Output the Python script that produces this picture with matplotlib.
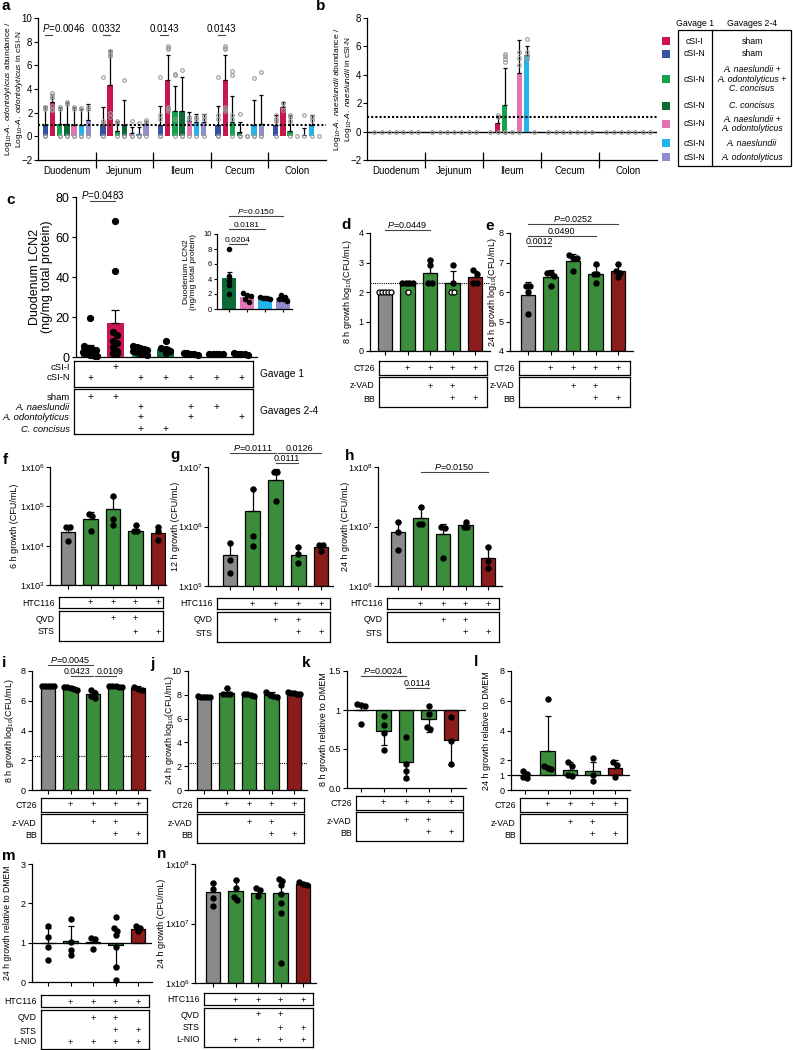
import numpy as np
import matplotlib
matplotlib.use("Agg")
import matplotlib.pyplot as plt
from matplotlib.patches import Rectangle

plt.rcParams['font.family'] = ['Liberation Sans', 'DejaVu Sans']
plt.rcParams['mathtext.fontset'] = 'custom'
plt.rcParams['mathtext.rm'] = 'Liberation Sans'
plt.rcParams['mathtext.it'] = 'Liberation Sans:italic'
plt.rcParams['axes.linewidth'] = 0.9

# ── Data ───────────────────────────────────────────────────────────────────────
SEGMENTS = ['Duodenum', 'Jejunum', 'Ileum', 'Cecum', 'Colon']
# bar order inside a segment: cSI-N/sham, cSI-I/sham, triple, C.c, A.n+A.o, A.n, A.o
GROUP_COLORS = ['#3553a3', '#c8174f', '#16a24c', '#0c6a36', '#e374b3', '#22b4ea', '#8f8bcc']

a_mean = [[1.0, 2.9, 1.05, 1.05, 1.0, 1.0, 1.4],
          [1.0, 4.3, 0.45, 1.0, 0.25, 0.2, 1.05],
          [1.0, 4.75, 2.1, 2.1, 1.3, 1.25, 1.25],
          [1.0, 4.75, 1.25, 0.35, 0.05, 1.0, 1.05],
          [1.0, 2.5, 0.45, 0.0, 0.1, 0.95, 0.0]]
a_err = [[2.55, 3.6, 2.45, 2.9, 2.5, 2.35, 2.75],
         [2.5, 7.3, 1.3, 3.1, 0.8, 0.75, 1.3],
         [2.6, 6.85, 4.25, 5.05, 2.05, 1.9, 1.9],
         [2.6, 6.85, 3.4, 1.2, 0.05, 3.1, 3.5],
         [1.8, 2.9, 1.8, 0.0, 0.7, 1.8, 0.0]]
a_pts = [[[2.5, 2.4, 2.3, 0, 0], [3.65, 3.4, 3.2, 2.6, 2.3, 2.2], [2.5, 2.3, 0, 0],
          [2.9, 2.7, 0, 0], [2.5, 2.3, 0, 0], [2.4, 2.3, 0, 0], [2.5, 2.3, 0]],
         [[5.0, 1.3, 1.1, 0, 0], [7.2, 7.1, 7.0, 6.8, 2.0, 1.6], [1.3, 1.1, 0],
          [4.8, 0, 0], [1.3, 0, 0], [1.1, 0, 0], [1.4, 1.2, 0]],
         [[5.0, 1.8, 1.5, 0, 0], [7.6, 7.5, 7.4, 2.5, 2.3, 2.1], [5.3, 5.2, 1.5, 0],
          [5.6, 0, 0], [1.6, 1.5, 0], [1.6, 1.5, 0], [1.7, 1.5, 0]],
         [[5.0, 1.8, 1.5, 0, 0], [7.6, 7.5, 7.4, 2.5, 2.3, 2.1], [5.5, 5.2, 1.8, 1.5, 0],
          [1.9, 0, 0], [0, 0], [4.9, 0, 0], [5.4, 0, 0]],
         [[1.8, 1.5, 1.3, 0], [2.8, 2.5, 2.2], [1.8, 1.6, 1.3, 0],
          [0], [1.8, 0], [1.6, 1.4, 0], [0]]]

b_mean = [[0] * 7, [0] * 7, [0, 0.6, 1.85, 0, 4.1, 5.4, 0], [0] * 7, [0] * 7]
b_err = [[0] * 7, [0] * 7, [0, 1.1, 4.5, 0, 6.45, 6.05, 0], [0] * 7, [0] * 7]
b_pts = [[[0]] * 7, [[0]] * 7,
         [[0], [1.2, 1.0, 0], [5.5, 5.3, 5.1, 4.9, 0, 0], [0], [5.6, 5.2, 4.7, 0],
          [6.5, 5.6, 5.3, 5.1], [0]],
         [[0]] * 7, [[0]] * 7]

LEG_ORDER = [1, 0, 2, 3, 4, 5, 6]
LEG_G1 = ['cSI-I', 'cSI-N', 'cSI-N', 'cSI-N', 'cSI-N', 'cSI-N', 'cSI-N']
LEG_G24 = ['sham', 'sham', 'A. naeslundii +\nA. odontolyticus +\nC. concisus', 'C. concisus',
           'A. naeslundii +\nA. odontolyticus', 'A. naeslundii', 'A. odontolyticus']

c_mean = [4.5, 17.0, 3.0, 4.1, 1.6, 1.5, 1.45]
c_err = [6.0, 23.5, 3.5, 5.0, 1.9, 1.6, 1.6]
c_pts = [[19.5, 5.5, 4.5, 4.0, 3.5, 2.5, 2.0, 1.5, 1.0, 0.8, 0.5, 0.3],
         [68, 43, 12.5, 11, 8, 7, 5, 3, 2, 2],
         [5.5, 5.0, 4.5, 4.0, 3.5, 3.0, 2.5, 2.0, 1.5, 1.5, 1.0],
         [8.0, 4.4, 3.8, 3.2, 2.0],
         [2.1, 1.9, 1.7, 1.3, 1.0],
         [1.6, 1.5, 1.5, 1.4, 1.5],
         [1.9, 1.6, 1.4, 1.3, 1.1]]
c_colors = GROUP_COLORS
c_table1 = [('cSI-I', [0, 1, 0, 0, 0, 0, 0]), ('cSI-N', [1, 0, 1, 1, 1, 1, 1])]
c_table2 = [('sham', [1, 1, 0, 0, 0, 0, 0]), ('A. naeslundii', [0, 0, 1, 0, 1, 1, 0]),
            ('A. odontolyticus', [0, 0, 1, 0, 1, 0, 1]), ('C. concisus', [0, 0, 1, 1, 0, 0, 0])]

GREY, GREEN, DRED = '#8a8a8a', '#3b8c3b', '#8b1c1c'
cell_colors = [GREY, GREEN, GREEN, GREEN, DRED]

d_mean = [2.0, 2.25, 2.65, 2.3, 2.5]
d_err = [2.0, 2.37, 3.1, 2.72, 2.72]
d_pts = [[], [2.3, 2.3, 2.3, 2.3], [3.1, 2.9, 2.3, 2.3], [2.9, 2.3], [2.75, 2.6, 2.3, 2.3]]
d_open = [[2.0] * 5, [2.0], [], [2.0, 2.0], []]

e_mean = [5.9, 6.5, 7.05, 6.6, 6.7]
e_err = [6.35, 6.75, 7.3, 6.92, 6.95]
e_pts = [[6.2, 6.2, 6.0, 5.25], [6.65, 6.65, 6.55, 6.22], [7.25, 7.15, 7.15, 6.7],
         [6.95, 6.6, 6.6, 6.3], [6.95, 6.7, 6.65, 6.5]]

f_mean = [2.2e4, 4.7e4, 8.5e4, 2.4e4, 2.1e4]
f_err = [3.1e4, 7.0e4, 1.7e5, 3.3e4, 3.0e4]
f_pts = [[3.0e4, 3.0e4, 1.3e4], [6.2e4, 5.8e4, 2.3e4], [1.8e5, 4.7e4, 3.4e4],
         [3.4e4, 2.4e4, 2.4e4], [3.0e4, 2.3e4, 1.4e4]]

g_mean = [3.3e5, 1.8e6, 6.0e6, 3.3e5, 4.5e5]
g_err = [5.2e5, 4.2e6, 9.3e6, 4.6e5, 5.0e5]
g_pts = [[5.3e5, 2.7e5, 1.65e5], [4.3e6, 6.9e5, 4.7e5], [8.3e6, 8.3e6, 2.7e6],
         [4.6e5, 3.4e5, 2.4e5], [4.8e5, 4.8e5, 3.9e5]]

h_mean = [8.0e6, 1.4e7, 7.4e6, 1.08e7, 3.0e6]
h_err = [1.2e7, 2.1e7, 1.1e7, 1.15e7, 4.6e6]
h_pts = [[1.2e7, 8.0e6, 4.1e6], [2.1e7, 1.1e7, 1.1e7], [1.0e7, 9.3e6, 3.0e6],
         [1.2e7, 1.0e7, 1.0e7], [4.6e6, 2.6e6, 2.0e6]]

i_mean = [7.0, 6.85, 6.45, 7.0, 6.85]
i_err = [7.02, 7.0, 6.75, 7.05, 6.98]
i_pts = [[7.0] * 5, [6.95, 6.9, 6.85, 6.8, 6.75], [6.75, 6.55, 6.35, 6.2],
         [7.0, 7.0, 6.95, 6.95, 7.0], [6.95, 6.75, 6.8]]

j_mean = [7.85, 8.15, 8.0, 7.95, 8.15]
j_err = [7.95, 8.55, 8.1, 8.2, 8.25]
j_pts = [[7.9, 7.85, 7.85, 7.8, 7.8], [8.6, 8.1, 8.1, 8.05], [8.05, 8.05, 8.0, 7.9],
         [8.2, 8.0, 7.9, 7.85], [8.2, 8.15, 8.15, 8.1, 8.05]]

k_mean = [1.0, 0.73, 0.33, 0.885, 0.61]
k_err = [1.08, 0.55, 0.12, 0.72, 0.3]
k_pts = [[1.08, 1.07, 1.05, 0.82], [0.92, 0.81, 0.7, 0.49], [0.65, 0.31, 0.22, 0.13],
         [1.05, 0.95, 0.78, 0.76], [0.91, 0.6, 0.31]]

l_mean = [1.0, 2.65, 1.35, 1.25, 1.5]
l_err = [1.2, 5.0, 1.85, 1.85, 2.0]
l_pts = [[1.3, 1.05, 0.85, 0.8], [6.15, 1.6, 1.45, 1.4], [1.85, 1.6, 1.0, 0.95],
         [2.15, 1.0, 0.6], [1.9, 1.7, 0.9]]

m_mean = [0.99, 1.03, 1.01, 0.95, 1.35]
m_err = [1.37, 1.43, 1.12, 0.4, 1.43]
m_pts = [[1.42, 1.15, 0.9, 0.56], [1.6, 1.02, 0.81, 0.69], [1.13, 1.1, 0.84],
         [1.65, 1.37, 1.3, 1.2, 0.89, 0.38, 0.05], [1.43, 1.38, 1.3]]

n_mean = [3.4e7, 3.5e7, 3.3e7, 3.2e7, 4.6e7]
n_err = [4.8e7, 5.3e7, 3.9e7, 5.6e7, 4.9e7]
n_pts = [[4.8e7, 3.8e7, 2.7e7, 2.0e7], [5.3e7, 4.0e7, 2.8e7, 2.5e7], [3.9e7, 3.6e7, 2.9e7],
         [5.6e7, 5.2e7, 4.4e7, 3.1e7, 2.2e7, 1.5e7, 2.2e6], [5.0e7, 4.7e7, 4.5e7]]

CT26_ROWS = ([('CT26', [0, 1, 1, 1, 1])], [('z-VAD', [0, 0, 1, 1, 0]), ('BB', [0, 0, 0, 1, 1])])
HTC_ROWS = ([('HTC116', [0, 1, 1, 1, 1])], [('QVD', [0, 0, 1, 1, 0]), ('STS', [0, 0, 0, 1, 1])])
NIO_ROWS = ([('HTC116', [0, 1, 1, 1, 1])],
            [('QVD', [0, 0, 1, 1, 0]), ('STS', [0, 0, 0, 1, 1]), ('L-NIO', [0, 1, 1, 1, 1])])

# ── Figure helpers ─────────────────────────────────────────────────────────────
W, H = 793, 1050
fig = plt.figure(figsize=(W / 100, H / 100), dpi=100)


def px_axes(x0, y0, x1, y1):
    ax = fig.add_axes([x0 / W, 1 - y1 / H, (x1 - x0) / W, (y1 - y0) / H])
    ax.patch.set_alpha(0)
    return ax


def clean(ax, fs=6.5, pad=1.5):
    ax.spines['top'].set_visible(False)
    ax.spines['right'].set_visible(False)
    ax.tick_params(length=3, width=0.8, labelsize=fs, pad=pad)


def ylab(ax, box, text, cx, fs=6.5):
    ax.set_ylabel(text, fontsize=fs, linespacing=1.05)
    ax.yaxis.label.set_va('center')
    ax.yaxis.set_label_coords((cx - box[0]) / (box[2] - box[0]), 0.5)


def sig(ax, xa, xb, y, s, fs=6.5, ha='center', xt=None):
    ax.plot([xa, xb], [y, y], color='#444444', lw=0.8, clip_on=False)
    ax.annotate(s, ((xa + xb) / 2 if xt is None else xt, y), xytext=(0, 0.3),
                textcoords='offset points', ha=ha, va='bottom', fontsize=fs,
                annotation_clip=False)


def swarm(ax, x, vals, r=4.5, step=0.16, ms=3.6, **kw):
    vals = sorted(vals, reverse=True)
    groups = []
    for v in vals:
        yy = ax.transData.transform((x, v))[1]
        if groups and abs(groups[-1][0][1] - yy) < r:
            groups[-1].append((v, yy))
        else:
            groups.append([(v, yy)])
    for grp in groups:
        n = len(grp)
        st = step if n < 2 else min(step, 0.55 / (n - 1))
        offs = (np.arange(n) - (n - 1) / 2) * st
        ax.plot(x + offs, [g[0] for g in grp], 'o', ms=ms, zorder=5, clip_on=False, **kw)


def errbar(ax, x, m, e, cap=2.2):
    if abs(e - m) < 1e-12:
        return
    yerr = [[0], [e - m]] if e > m else [[m - e], [0]]
    ax.errorbar(x, m, yerr=yerr, fmt='none', ecolor='k', elinewidth=0.9,
                capsize=cap, capthick=0.9, zorder=3)


def cond_table(box, xlim, groups, offs, bx=(9, -3), fs=6.3, side=None):
    x0, y0, x1, y1 = box
    a, b = xlim
    k = (b - a) / (x1 - x0)
    bx0, bx1 = x0 + bx[0], x1 + bx[1]
    for gi, rows in enumerate(groups):
        top, bot, row_y = offs[gi]
        t = px_axes(bx0, y1 + top, bx1, y1 + bot)
        t.set_xlim(a + (bx0 - x0) * k, a + (bx1 - x0) * k)
        t.set_ylim(bot, top)
        t.set_xticks([])
        t.set_yticks([])
        for s in t.spines.values():
            s.set_linewidth(0.9)
        for (label, flags), ry in zip(rows, row_y):
            st = 'italic' if label[:2] in ('A.', 'C.') else 'normal'
            t.annotate(label, xy=(0, ry), xycoords=('axes fraction', 'data'), xytext=(-3, 0),
                       textcoords='offset points', ha='right', va='center', fontsize=fs, style=st)
            for i, f in enumerate(flags):
                if f:
                    t.text(i + 1, ry, '+', ha='center', va='center', fontsize=fs + 0.5)
        if side:
            t.annotate(side[gi], xy=(1, 0.5), xycoords='axes fraction', xytext=(5, 0),
                       textcoords='offset points', ha='left', va='center', fontsize=fs + 0.5)


# ── a / b: relative abundance ─────────────────────────────────────────────────
def abundance(box, means, errs, pts, ticks, ylabel, cx):
    ax = px_axes(*box)
    clean(ax, 7, pad=1)
    for g in range(len(SEGMENTS)):
        for j, col in enumerate(GROUP_COLORS):
            x = g * 8 + 1 + j
            ax.bar(x, means[g][j], width=0.75, color=col, zorder=2)
            errbar(ax, x, means[g][j], max(errs[g][j], means[g][j]), cap=1.3)
            ax.plot([x] * len(pts[g][j]), pts[g][j], 'o', ms=2.6, mfc='none', mec='#9a9a9a',
                    mew=0.8, zorder=4, clip_on=False)
    ax.axhline(1, color='k', ls=(0, (1, 1)), lw=1.5, zorder=6)
    ax.set_xlim(0, 40)
    ax.set_ylim(ticks[0], ticks[-1])
    ax.set_yticks(ticks)
    ax.set_xticks([8, 16, 24, 32])
    ax.set_xticklabels([])
    ax.tick_params(axis='x', direction='inout', length=11, width=0.9)
    ax.set_xticks([4, 12, 20, 28, 36], minor=True)
    ax.set_xticklabels(SEGMENTS, minor=True, fontsize=7)
    ax.tick_params(axis='x', which='minor', length=0, pad=4)
    ylab(ax, box, ylabel, cx, fs=6)
    return ax


box_a = (38, 18, 326, 160)
ax_a = abundance(box_a, a_mean, a_err, a_pts, [-2, 0, 2, 4, 6, 8, 10],
                 r"Log$_{10}$-$\it{A.\ odontolyticus}$ abundance /" + "\n" +
                 r"Log$_{10}$-$\it{A.\ odontolyticus}$ in cSI-N", 14)
sig(ax_a, 1, 2, 8.6, r"$\it{P}$=0.0046", fs=7, ha='left', xt=0.6)
for g in (1, 2, 3):
    sig(ax_a, g * 8 + 1, g * 8 + 2, 8.6, ['', '0.0332', '0.0143', '0.0143'][g], fs=7)

box_b = (367, 18, 657, 160)
ax_b = abundance(box_b, b_mean, b_err, b_pts, [-2, 0, 2, 4, 6, 8],
                 r"Log$_{10}$-$\it{A.\ naeslundii}$ abundance /" + "\n" +
                 r"Log$_{10}$-$\it{A.\ naeslundii}$ in cSI-N", 343)
ax_b.axhline(0, color='k', lw=1.0, zorder=1)

# legend table (top right)
ov = fig.add_axes([0, 0, 1, 1])
ov.set_xlim(0, W)
ov.set_ylim(H, 0)
ov.axis('off')
ov.patch.set_alpha(0)
leg_y = [41, 54, 79, 106, 124, 143, 157]
ov.add_patch(Rectangle((678, 30), 113, 136, fill=False, lw=0.9, ec='k'))
ov.plot([712, 712], [30, 166], color='k', lw=0.9)
ov.text(695, 23, 'Gavage 1', ha='center', va='center', fontsize=6.3)
ov.text(752, 23, 'Gavages 2-4', ha='center', va='center', fontsize=6.3)
for idx, yy, g1, g24 in zip(LEG_ORDER, leg_y, LEG_G1, LEG_G24):
    ov.add_patch(Rectangle((662, yy - 4), 8, 8, color=GROUP_COLORS[idx], lw=0))
    ov.text(695, yy, g1, ha='center', va='center', fontsize=6.3)
    ov.text(752, yy, g24, ha='center', va='center', fontsize=6.3, linespacing=1.05,
            style='normal' if g24 == 'sham' else 'italic')

# ── c: duodenum LCN2 ───────────────────────────────────────────────────────────
box_c = (76, 197, 257, 357)
ax_c = px_axes(*box_c)
clean(ax_c, 9)
xc = np.arange(1, len(c_mean) + 1)
ax_c.set_xlim(1 - 14 / 25.2, 1 + (257 - 90) / 25.2)
ax_c.set_ylim(0, 80)
ax_c.set_yticks([0, 20, 40, 60, 80])
ax_c.set_xticks([])
ax_c.bar(xc, c_mean, width=0.68, color=c_colors, zorder=2)
for x, m, e, p in zip(xc, c_mean, c_err, c_pts):
    errbar(ax_c, x, m, e, cap=3)
    swarm(ax_c, x, p, r=4.5, step=0.17, ms=4.2, color='k')
sig(ax_c, 1, 2, 78, r"$\it{P}$=0.0483", fs=7)
ylab(ax_c, box_c, "Duodenum LCN2\n(ng/mg total protein)", 41, fs=9)
cond_table(box_c, ax_c.get_xlim(), [c_table1, c_table2],
           [(4, 30, [10, 21]), (32, 77, [40, 50, 60, 72])], bx=(-2, -4), fs=6.8,
           side=['Gavage 1', 'Gavages 2-4'])

box_ci = (217, 234, 292, 309)
ax_ci = px_axes(*box_ci)
clean(ax_ci, 5.5)
ax_ci.tick_params(length=2.5, pad=1)
xi = np.arange(1, 5)
ax_ci.set_xlim(1 - 12 / 18, 1 + 63 / 18)
ax_ci.set_ylim(0, 10)
ax_ci.set_yticks([0, 2, 4, 6, 8, 10])
ax_ci.set_xticks(xi)
ax_ci.set_xticklabels([])
ax_ci.bar(xi, c_mean[3:], width=0.75, color=c_colors[3:], zorder=2)
for x, m, e, p in zip(xi, c_mean[3:], c_err[3:], c_pts[3:]):
    errbar(ax_ci, x, m, e, cap=1.8)
    swarm(ax_ci, x, p, r=3.5, step=0.2, ms=3.0, color='k')
sig(ax_ci, 1, 2, 8.67, '0.0204', fs=6)
sig(ax_ci, 1, 3, 10.67, '0.0181', fs=6)
sig(ax_ci, 1, 4, 12.4, r"$\it{P}$=0.0150", fs=6)
ylab(ax_ci, box_ci, "Duodenum LCN2\n(ng/mg total protein)", 190, fs=6)


# ── d–n: growth panels ─────────────────────────────────────────────────────────
def growth(box, first_px, means, errs, pts, ylim, yticks, ylabel, cx, log=False,
           base=None, yticklabels=None, dotted=None, unit_line=False, open_pts=None, sp=22.5,
           lab_fs=6.5):
    ax = px_axes(*box)
    clean(ax, pad=0.8 if log else 1.5)
    x = np.arange(1, len(means) + 1)
    lo = 1 - (first_px - box[0]) / sp
    ax.set_xlim(lo, lo + (box[2] - box[0]) / sp)
    if log:
        ax.set_yscale('log')
    ax.set_ylim(*ylim)
    ax.set_yticks(yticks)
    if yticklabels:
        ax.set_yticklabels(yticklabels)
    ax.minorticks_off()
    ax.set_xticks(x)
    ax.set_xticklabels([])
    b0 = ylim[0] if base is None else base
    ax.bar(x, np.array(means) - b0, bottom=b0, width=0.65, color=cell_colors,
           edgecolor='k', lw=0.9, zorder=2)
    for xx, m, e, p in zip(x, means, errs, pts):
        errbar(ax, xx, m, e)
        if p:
            swarm(ax, xx, p, color='k')
    if open_pts:
        for xx, p in zip(x, open_pts):
            if p:
                swarm(ax, xx, p, color='k', mfc='white', mew=0.9)
    if dotted is not None:
        ax.axhline(dotted, color='k', ls=(0, (1, 1)), lw=0.8, zorder=1, xmax=1.0)
    if unit_line:
        ax.axhline(1, color='k', lw=0.9, zorder=4)
    ylab(ax, box, ylabel, cx, fs=lab_fs)
    return ax


def log_labels(exps):
    return ['1x10$^{%d}$' % e for e in exps]


LOG8 = r"log$_{10}$(CFU/mL)"
ct_offs = [(8, 22, [15]), (24, 53, [33, 45])]
htc_offs = [(12, 23, [18]), (26, 56, [34, 47])]

box_d = (370, 233, 490, 351)
ax_d = growth(box_d, 385, d_mean, d_err, d_pts, (0, 4), [0, 1, 2, 3, 4], "8 h growth " + LOG8, 348,
              dotted=2.3, open_pts=d_open)
sig(ax_d, 1, 3, 4.09, r"$\it{P}$=0.0449")
cond_table(box_d, ax_d.get_xlim(), CT26_ROWS, [(10, 24, [17]), (26, 56, [35, 48])])

box_e = (510, 233, 633, 351)
ax_e = growth(box_e, 528, e_mean, e_err, e_pts, (4, 8), [4, 5, 6, 7, 8], "24 h growth " + LOG8, 492)
sig(ax_e, 1, 2, 7.55, '0.0012')
sig(ax_e, 1, 4, 7.89, '0.0490')
sig(ax_e, 1, 5, 8.29, r"$\it{P}$=0.0252")
cond_table(box_e, ax_e.get_xlim(), CT26_ROWS, [(10, 24, [17]), (26, 56, [35, 48])])

box_f = (50, 467, 166, 585)
ax_f = growth(box_f, 68, f_mean, f_err, f_pts, (1e3, 1e6), [1e3, 1e4, 1e5, 1e6],
              "6 h growth (CFU/mL)", 15, log=True, yticklabels=log_labels([3, 4, 5, 6]))
cond_table(box_f, ax_f.get_xlim(), HTC_ROWS, htc_offs)

box_g = (208, 467, 333, 586)
ax_g = growth(box_g, 230, g_mean, g_err, g_pts, (1e5, 1e7), [1e5, 1e6, 1e7],
              "12 h growth (CFU/mL)", 175, log=True, yticklabels=log_labels([5, 6, 7]), sp=22.75)
sig(ax_g, 1, 3, 1.72e7, r"$\it{P}$=0.0111")
sig(ax_g, 3.1, 5, 1.72e7, '0.0126')
sig(ax_g, 3, 4, 1.17e7, '0.0111')
cond_table(box_g, ax_g.get_xlim(), HTC_ROWS, htc_offs)

box_h = (378, 467, 502, 586)
ax_h = growth(box_h, 398, h_mean, h_err, h_pts, (1e6, 1e8), [1e6, 1e7, 1e8],
              "24 h growth (CFU/mL)", 345, log=True, yticklabels=log_labels([6, 7, 8]))
sig(ax_h, 2, 5, 8.2e7, r"$\it{P}$=0.0150")
cond_table(box_h, ax_h.get_xlim(), HTC_ROWS, htc_offs)

box_i = (32, 671, 150, 790)
ax_i = growth(box_i, 48, i_mean, i_err, i_pts, (0, 8), [0, 2, 4, 6, 8], "8 h growth " + LOG8, 10,
              dotted=2.3)
sig(ax_i, 1, 3, 8.39, r"$\it{P}$=0.0045")
sig(ax_i, 2, 3, 7.65, '0.0423', fs=6.3, xt=2.3)
sig(ax_i, 3.1, 4, 7.65, '0.0109', fs=6.3, xt=3.75)
cond_table(box_i, ax_i.get_xlim(), CT26_ROWS, ct_offs)

box_j = (188, 671, 307, 790)
ax_j = growth(box_j, 204, j_mean, j_err, j_pts, (0, 10), [0, 2, 4, 6, 8, 10],
              "24 h growth " + LOG8, 170, dotted=2.3)
cond_table(box_j, ax_j.get_xlim(), CT26_ROWS, ct_offs)

box_k = (347, 671, 466, 788)
ax_k = growth(box_k, 361, k_mean, k_err, k_pts, (0, 1.5), [0, 0.5, 1, 1.5],
              "8 h growth relative to DMEM", 324, base=1, unit_line=True,
              yticklabels=['0.0', '0.5', '1', '1.5'])
sig(ax_k, 1, 3, 1.436, r"$\it{P}$=0.0024")
sig(ax_k, 3, 4, 1.28, '0.0114')
cond_table(box_k, ax_k.get_xlim(), CT26_ROWS, ct_offs)

box_l = (511, 671, 630, 790)
ax_l = growth(box_l, 525, l_mean, l_err, l_pts, (0, 8), [0, 1, 2, 4, 6, 8],
              "24 h growth relative to DMEM", 487, base=1, unit_line=True)
cond_table(box_l, ax_l.get_xlim(), CT26_ROWS, ct_offs)

box_m = (32, 864, 152, 982)
ax_m = growth(box_m, 48, m_mean, m_err, m_pts, (0, 3), [0, 1, 2, 3],
              "24 h growth relative to DMEM", 8, base=1, unit_line=True, lab_fs=6.2)
cond_table(box_m, ax_m.get_xlim(), NIO_ROWS, [(13, 25, [20]), (28, 67, [36, 49, 60])])

box_n = (195, 864, 316, 983)
ax_n = growth(box_n, 213, n_mean, n_err, n_pts, (1e6, 1e8), [1e6, 1e7, 1e8],
              "24 h growth (CFU/mL)", 161, log=True, yticklabels=log_labels([6, 7, 8]))
cond_table(box_n, ax_n.get_xlim(), NIO_ROWS, [(10, 22, [17]), (25, 64, [32, 45, 57])])

# ── panel letters ──────────────────────────────────────────────────────────────
letters = {'a': (2, 6), 'b': (316, 6), 'c': (6, 200), 'd': (341, 225), 'e': (485, 226),
           'f': (3, 460), 'g': (170, 455), 'h': (345, 456), 'i': (2, 663), 'j': (150, 664),
           'k': (302, 663), 'l': (474, 662), 'm': (2, 856), 'n': (157, 854)}
for s, (lx, ly) in letters.items():
    fig.text(lx / W, 1 - ly / H, s, ha='left', va='center', fontsize=11, fontweight='bold')

fig.savefig('out.png', dpi=100)
